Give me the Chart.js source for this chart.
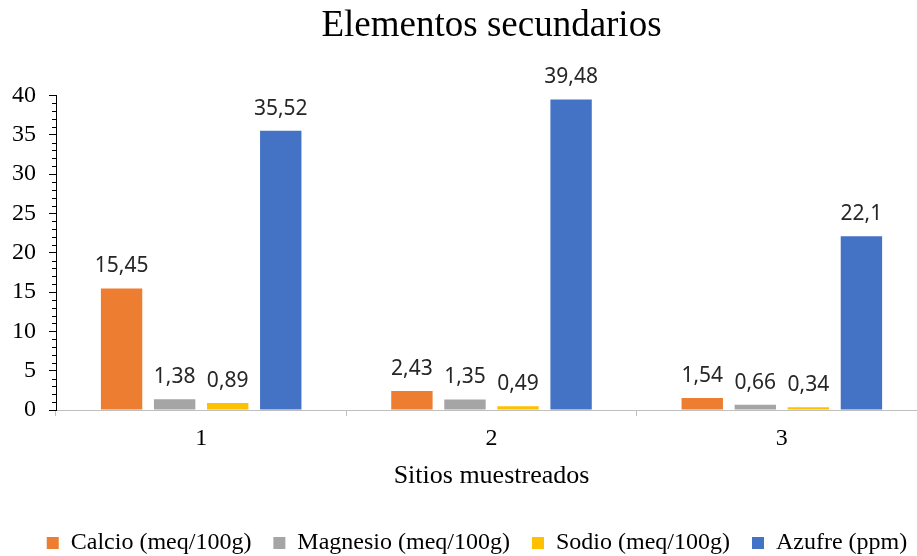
<!DOCTYPE html>
<html>
<head>
    <title>Elementos secundarios</title>
    <script src="https://cdn.jsdelivr.net/npm/chart.js"></script>
    <style>
        html, body { margin: 0; padding: 0; overflow: hidden; background: #fff; }
        #wrap { width: 954px; height: 556px; }
    </style>
</head>
<body>
    <div id="wrap"><canvas id="elemChart"></canvas></div>

    <script>
        const sitios = ['1', '2', '3'];
        const calcio = [15.45, 2.43, 1.54];
        const magnesio = [1.38, 1.35, 0.66];
        const sodio = [0.89, 0.49, 0.34];
        const azufre = [35.52, 39.48, 22.1];
        const yTicks = [0, 5, 10, 15, 20, 25, 30, 35, 40];

        const serif = 'Liberation Serif';

        // value labels above every bar (comma decimals)
        const barLabels = {
            id: 'barLabels',
            afterDatasetsDraw(chart) {
                const ctx = chart.ctx;
                ctx.save();
                ctx.font = '21px "Noto Sans"';
                ctx.fillStyle = '#262626';
                ctx.textAlign = 'center';
                ctx.textBaseline = 'alphabetic';
                chart.data.datasets.forEach((ds, i) => {
                    chart.getDatasetMeta(i).data.forEach((bar, j) => {
                        const txt = String(ds.data[j]).replace('.', ',');
                        ctx.fillText(txt, bar.x, bar.y - 16);
                    });
                });
                ctx.restore();
            }
        };

        // minor tick marks on the value axis, one per unit
        const minorTicks = {
            id: 'minorTicks',
            afterDraw(chart) {
                const y = chart.scales.y;
                const ctx = chart.ctx;
                const right = chart.chartArea.left;
                ctx.save();
                ctx.strokeStyle = '#000';
                ctx.lineWidth = 1;
                for (let v = y.min; v <= y.max; v++) {
                    if (v % 5 === 0) continue;
                    const py = Math.round(y.getPixelForValue(v)) + 0.5;
                    ctx.beginPath();
                    ctx.moveTo(right - 4, py);
                    ctx.lineTo(right, py);
                    ctx.stroke();
                }
                ctx.restore();
            }
        };

        const ctx = document.getElementById('elemChart').getContext('2d');
        new Chart(ctx, {
            type: 'bar',
            data: {
                labels: sitios,
                datasets: [
                    { label: 'Calcio (meq/100g)', data: calcio, backgroundColor: '#ED7D31' },
                    { label: 'Magnesio (meq/100g)', data: magnesio, backgroundColor: '#A5A5A5' },
                    { label: 'Sodio (meq/100g)', data: sodio, backgroundColor: '#FFC000' },
                    { label: 'Azufre (ppm)', data: azufre, backgroundColor: '#4472C4' }
                ]
            },
            options: {
                responsive: true,
                maintainAspectRatio: false,
                animation: false,
                categoryPercentage: 0.731,
                barPercentage: 0.78,
                layout: { padding: { left: 0, right: 0, top: 0, bottom: -9 } },
                plugins: {
                    title: {
                        display: true,
                        text: 'Elementos secundarios',
                        fullSize: false,
                        color: '#000',
                        font: { family: serif, size: 37, weight: 'normal', lineHeight: 1.2 },
                        padding: { top: 4, bottom: 47 }
                    },
                    legend: {
                        position: 'bottom',
                        labels: {
                            color: '#000',
                            font: { family: serif, size: 24 },
                            boxWidth: 12,
                            boxHeight: 12,
                            padding: 22
                        }
                    },
                    tooltip: { enabled: false }
                },
                scales: {
                    x: {
                        grid: {
                            display: true,
                            drawOnChartArea: false,
                            offset: true,
                            tickLength: 6,
                            color: '#BFBFBF'
                        },
                        border: { color: '#BFBFBF' },
                        ticks: {
                            color: '#000',
                            padding: 8,
                            font: { family: serif, size: 24, lineHeight: 1.2 }
                        },
                        title: {
                            display: true,
                            text: 'Sitios muestreados',
                            color: '#000',
                            font: { family: serif, size: 26, lineHeight: 1.2 },
                            padding: { top: 0, bottom: 17 }
                        }
                    },
                    y: {
                        min: 0,
                        max: 40,
                        afterFit(scale) { scale.width = 56; },
                        afterBuildTicks(scale) {
                            scale.ticks = yTicks.map(v => ({ value: v }));
                        },
                        grid: {
                            display: true,
                            drawOnChartArea: false,
                            tickLength: 7,
                            color: '#000'
                        },
                        border: { color: '#000' },
                        ticks: {
                            color: '#000',
                            padding: 13,
                            font: { family: serif, size: 24 }
                        }
                    },
                    // empty spacer on the right so the plot runs past the window edge
                    yPad: {
                        position: 'right',
                        display: true,
                        afterFit(scale) { scale.width = 27; },
                        grid: { display: false },
                        border: { display: false },
                        ticks: { display: false }
                    }
                }
            },
            plugins: [barLabels, minorTicks]
        });
    </script>
</body>
</html>
